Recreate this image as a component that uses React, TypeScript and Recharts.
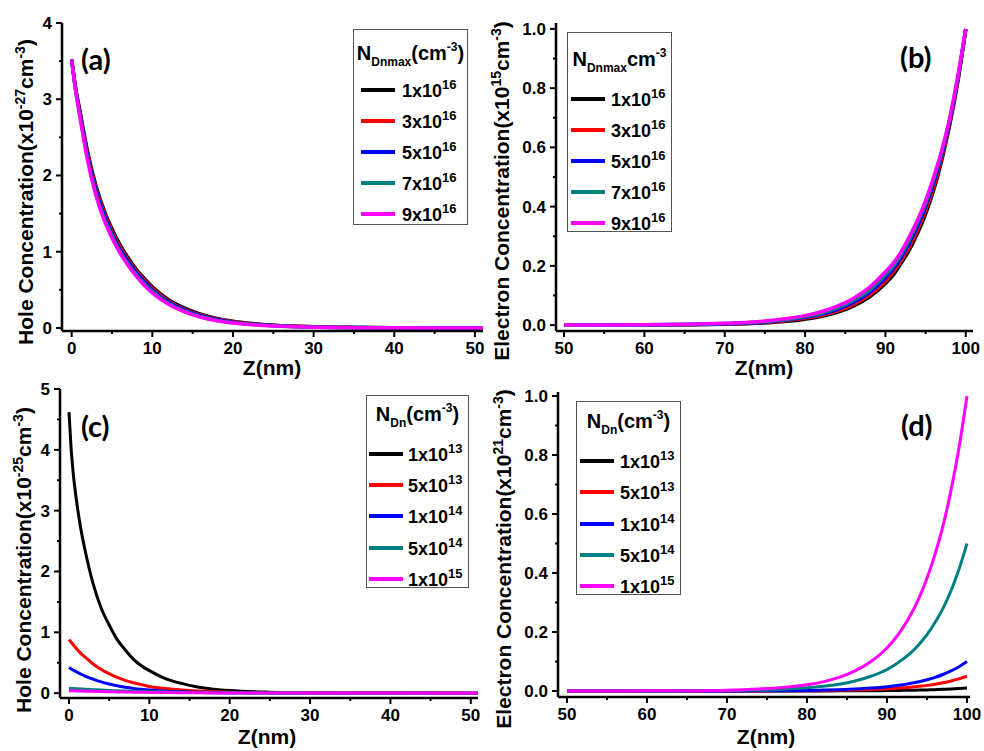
import React from 'react';
import { LineChart, Line, XAxis, YAxis, Legend } from 'recharts';

const FONT = "'Liberation Sans', Arial, sans-serif";
const COLORS = ['#000000', '#ff0000', '#0000ff', '#008080', '#ff00ff'];

// (a) hole concentration, N_Dnmax sweep
const zA = [0, 0.5, 1, 2, 3, 4, 5, 6, 7, 8, 9, 10, 12, 14, 16, 18, 20, 25, 30, 35, 40, 45, 51];
const holeA1 = [3.52, 3.14, 2.86, 2.3, 1.87, 1.55, 1.3, 1.09, 0.92, 0.77, 0.65, 0.54, 0.37, 0.26, 0.18, 0.125, 0.087, 0.037, 0.016, 0.007, 0.003, 0.0012, 0.0005];
const holeA3 = [3.52, 3.13, 2.84, 2.27, 1.84, 1.52, 1.27, 1.06, 0.89, 0.75, 0.63, 0.52, 0.355, 0.245, 0.17, 0.117, 0.081, 0.034, 0.014, 0.006, 0.0025, 0.001, 0.0004];
const holeA5 = [3.52, 3.12, 2.82, 2.24, 1.81, 1.49, 1.24, 1.03, 0.87, 0.73, 0.61, 0.5, 0.34, 0.235, 0.16, 0.11, 0.076, 0.031, 0.013, 0.005, 0.002, 0.0009, 0.0003];
const holeA7 = [3.52, 3.11, 2.8, 2.21, 1.77, 1.45, 1.21, 1.0, 0.84, 0.7, 0.58, 0.48, 0.325, 0.22, 0.15, 0.102, 0.07, 0.028, 0.011, 0.0045, 0.0017, 0.0007, 0.0002];
const holeA9 = [3.52, 3.1, 2.78, 2.18, 1.74, 1.42, 1.18, 0.98, 0.82, 0.68, 0.56, 0.46, 0.31, 0.21, 0.14, 0.095, 0.065, 0.025, 0.01, 0.004, 0.0015, 0.0006, 0];
const legendA = [['1', '16'], ['3', '16'], ['5', '16'], ['7', '16'], ['9', '16']];

// (b) electron concentration, N_Dnmax sweep
const zB = [50, 55, 60, 65, 70, 74, 77, 80, 82, 84, 86, 88, 90, 91, 92, 93, 94, 95, 96, 97, 98, 99, 100];
const elecB1 = [0.0001, 0.0002, 0.0005, 0.001, 0.003, 0.006, 0.011, 0.02, 0.029, 0.043, 0.064, 0.095, 0.14, 0.17, 0.21, 0.255, 0.31, 0.375, 0.455, 0.555, 0.675, 0.82, 1.0];
const elecB3 = [0.0001, 0.0003, 0.0006, 0.0013, 0.0035, 0.007, 0.013, 0.023, 0.032, 0.047, 0.069, 0.101, 0.148, 0.18, 0.219, 0.266, 0.322, 0.387, 0.466, 0.564, 0.682, 0.825, 1.0];
const elecB5 = [0.0001, 0.0003, 0.0007, 0.0016, 0.004, 0.008, 0.015, 0.026, 0.036, 0.052, 0.076, 0.11, 0.159, 0.19, 0.23, 0.278, 0.334, 0.4, 0.479, 0.574, 0.689, 0.83, 1.0];
const elecB7 = [0.0002, 0.0004, 0.0008, 0.002, 0.005, 0.0095, 0.017, 0.029, 0.04, 0.058, 0.083, 0.118, 0.17, 0.2, 0.24, 0.289, 0.345, 0.41, 0.49, 0.582, 0.695, 0.835, 1.0];
const elecB9 = [0.0002, 0.0005, 0.001, 0.0025, 0.006, 0.011, 0.02, 0.032, 0.045, 0.064, 0.09, 0.127, 0.18, 0.21, 0.25, 0.3, 0.355, 0.42, 0.5, 0.59, 0.7, 0.84, 1.0];
const legendB = [['1', '16'], ['3', '16'], ['5', '16'], ['7', '16'], ['9', '16']];

// (c) hole concentration, N_Dn sweep
const zC = [0, 0.25, 0.5, 1, 1.5, 2, 3, 4, 5, 6, 7, 8, 9, 10, 12, 14, 16, 18, 20, 25, 30, 40, 51];
const holeC1 = [4.62, 4.05, 3.65, 3.1, 2.68, 2.35, 1.8, 1.4, 1.12, 0.88, 0.71, 0.56, 0.45, 0.37, 0.24, 0.16, 0.1, 0.065, 0.042, 0.015, 0.006, 0.001, 0];
const holeC2 = [0.88, 0.84, 0.8, 0.72, 0.65, 0.59, 0.48, 0.39, 0.32, 0.26, 0.21, 0.17, 0.14, 0.11, 0.075, 0.05, 0.034, 0.023, 0.015, 0.006, 0.0025, 0.0005, 0];
const holeC3 = [0.42, 0.4, 0.38, 0.345, 0.31, 0.28, 0.23, 0.185, 0.15, 0.12, 0.097, 0.078, 0.063, 0.05, 0.033, 0.022, 0.015, 0.01, 0.007, 0.003, 0.001, 0.0003, 0];
const holeC4 = [0.08, 0.078, 0.076, 0.072, 0.068, 0.064, 0.057, 0.05, 0.044, 0.039, 0.034, 0.03, 0.026, 0.023, 0.017, 0.013, 0.01, 0.007, 0.005, 0.002, 0.001, 0.0002, 0];
const holeC5 = [0.04, 0.039, 0.038, 0.036, 0.034, 0.032, 0.029, 0.026, 0.023, 0.02, 0.018, 0.016, 0.014, 0.012, 0.009, 0.007, 0.005, 0.004, 0.003, 0.0015, 0.0007, 0.0002, 0];
const legendC = [['1', '13'], ['5', '13'], ['1', '14'], ['5', '14'], ['1', '15']];

// (d) electron concentration, N_Dn sweep
const zD = [50, 55, 60, 65, 70, 74, 77, 80, 82, 84, 86, 88, 90, 91, 92, 93, 94, 95, 96, 97, 98, 99, 100];
const elecD1 = [0, 0, 0, 0, 0, 0.0001, 0.0001, 0.0002, 0.0003, 0.0005, 0.0007, 0.001, 0.0015, 0.0018, 0.0022, 0.0026, 0.0032, 0.0038, 0.0046, 0.0056, 0.0068, 0.0083, 0.01];
const elecD2 = [0, 0, 0, 0.0001, 0.0002, 0.0004, 0.0006, 0.001, 0.0016, 0.0023, 0.0034, 0.005, 0.0073, 0.0089, 0.0108, 0.013, 0.0158, 0.0191, 0.0232, 0.028, 0.034, 0.0413, 0.05];
const elecD3 = [0, 0, 0.0001, 0.0001, 0.0003, 0.0007, 0.0012, 0.0021, 0.0031, 0.0046, 0.0068, 0.01, 0.0146, 0.0177, 0.0215, 0.026, 0.0315, 0.0382, 0.0463, 0.056, 0.068, 0.0825, 0.1];
const elecD4 = [0.0001, 0.0001, 0.0003, 0.0005, 0.0015, 0.0035, 0.006, 0.011, 0.016, 0.023, 0.034, 0.05, 0.073, 0.089, 0.108, 0.13, 0.158, 0.191, 0.232, 0.28, 0.34, 0.413, 0.5];
const elecD5 = [0.0001, 0.0003, 0.0005, 0.001, 0.003, 0.007, 0.012, 0.021, 0.031, 0.046, 0.068, 0.1, 0.146, 0.177, 0.215, 0.26, 0.315, 0.382, 0.463, 0.56, 0.68, 0.825, 1.0];
const legendD = [['1', '13'], ['5', '13'], ['1', '14'], ['5', '14'], ['1', '15']];

// tick values
const holeXMajor = [0, 10, 20, 30, 40, 50];
const holeXMinor = [5, 15, 25, 35, 45];
const elecXMajor = [50, 60, 70, 80, 90, 100];
const elecXMinor = [55, 65, 75, 85, 95];
const yMajorA = [0, 1, 2, 3, 4];
const yMinorA = [0.5, 1.5, 2.5, 3.5];
const yMajorC = [0, 1, 2, 3, 4, 5];
const yMinorC = [0.5, 1.5, 2.5, 3.5, 4.5];
const yMajorElec = [0, 0.2, 0.4, 0.6, 0.8, 1.0];
const yMinorElec = [0.1, 0.3, 0.5, 0.7, 0.9];

const KEYS = ['s1', 's2', 's3', 's4', 's5'];

function buildRows(z: number[], series: number[][]) {
  return z.map((zv, i) => {
    const row: any = { z: zv };
    series.forEach((s, k) => { row[KEYS[k]] = s[i]; });
    return row;
  });
}

const tickFont = { fontFamily: FONT, fontWeight: 'bold' as const, fontSize: 17, fill: '#000' };

function renderTick(p: any, dir: 'h' | 'v', majors: number[], fmt: ((v: number) => string) | null) {
  const v = p.payload.value;
  const major = majors.some((m) => Math.abs(m - v) < 1e-9);
  const len = major ? 6 : 3;
  if (dir === 'h') {
    return (
      <g>
        <line x1={p.x} x2={p.x} y1={p.y} y2={p.y + len} stroke="#000" strokeWidth={2} />
        {major && fmt && (
          <text x={p.x} y={p.y + 23} textAnchor="middle" style={tickFont}>{fmt(v)}</text>
        )}
      </g>
    );
  }
  return (
    <g>
      <line x1={p.x - len} x2={p.x} y1={p.y} y2={p.y} stroke="#000" strokeWidth={2} />
      {major && fmt && (
        <text x={p.x - 10} y={p.y + 6} textAnchor="end" style={tickFont}>{fmt(v)}</text>
      )}
    </g>
  );
}

const Sup = ({ children, size = 13, top = -8 }: any) => (
  <span style={{ fontSize: size, position: 'relative', top }}>{children}</span>
);
const Sub = ({ children }: any) => (
  <span style={{ fontSize: 12, position: 'relative', top: 6 }}>{children}</span>
);

function LegendBox({ payload, spec, title, labels }: any) {
  return (
    <div style={{
      position: 'relative', width: spec.width, height: spec.height, boxSizing: 'border-box',
      border: '1.5px solid #555', background: '#fff', fontFamily: FONT, fontWeight: 'bold', color: '#000',
    }}>
      <div style={{ position: 'absolute', left: 0, right: 0, top: spec.titleY - 12, textAlign: 'center', fontSize: 20, lineHeight: '24px', whiteSpace: 'nowrap' }}>
        {title}
      </div>
      {(payload || []).map((item: any, i: number) => (
        <div key={i} style={{ position: 'absolute', left: 0, width: '100%', top: spec.rowY + i * spec.rowGap - 12, height: 24 }}>
          <div style={{ position: 'absolute', left: spec.lineX, top: 10, width: 34, height: 4, background: item.color }} />
          <div style={{ position: 'absolute', left: spec.textX, top: 1, fontSize: 18, lineHeight: '24px', whiteSpace: 'nowrap' }}>
            {labels[i][0]}x10<Sup>{labels[i][1]}</Sup>
          </div>
        </div>
      ))}
    </div>
  );
}

function Panel(cfg: any) {
  const rows = buildRows(cfg.z, cfg.series);
  const xTicks = [...cfg.xMajor, ...cfg.xMinor].sort((a, b) => a - b);
  const yTicks = [...cfg.yMajor, ...cfg.yMinor].sort((a, b) => a - b);
  const axisLine = { stroke: '#000', strokeWidth: 2.5 };
  return (
    <div style={{ position: 'absolute', left: cfg.left, top: cfg.top }}>
      <LineChart width={cfg.width} height={cfg.height} data={rows} margin={{ top: cfg.mTop, right: cfg.mRight, bottom: 0, left: 0 }}>
        <XAxis xAxisId="b" type="number" dataKey="z" domain={cfg.xDomain} ticks={xTicks} interval={0} allowDataOverflow
          height={cfg.xHeight} tickSize={0} tickMargin={0} tickLine={false} axisLine={axisLine}
          tick={(p: any) => renderTick(p, 'h', cfg.xMajor, (v) => String(v))} />
        <XAxis xAxisId="t" orientation="top" type="number" dataKey="z" domain={cfg.xDomain} ticks={xTicks} interval={0} allowDataOverflow
          height={0} tickSize={0} tickMargin={0} tickLine={false} axisLine={axisLine}
          tick={(p: any) => renderTick(p, 'h', cfg.xMajor, null)} />
        <YAxis yAxisId="l" type="number" domain={cfg.yDomain} ticks={yTicks} interval={0} allowDataOverflow
          width={cfg.yWidth} tickSize={0} tickMargin={0} tickLine={false} axisLine={axisLine}
          tick={(p: any) => renderTick(p, 'v', cfg.yMajor, cfg.yFmt)} />
        <YAxis yAxisId="r" orientation="right" type="number" domain={cfg.yDomain} ticks={yTicks} interval={0} allowDataOverflow
          width={0} tickSize={0} tickMargin={0} tickLine={false} axisLine={axisLine}
          tick={(p: any) => renderTick(p, 'v', cfg.yMajor, null)} />
        {KEYS.map((k, i) => (
          <Line key={k} xAxisId="b" yAxisId="l" dataKey={k} name={k} type="monotone" stroke={COLORS[i]}
            strokeWidth={cfg.lineWidth} dot={false} activeDot={false} isAnimationActive={false} />
        ))}
        <Legend layout="vertical" align="center" verticalAlign="middle"
          wrapperStyle={{ left: cfg.legend.left, top: cfg.legend.top, width: cfg.legend.width, height: cfg.legend.height }}
          content={(props: any) => <LegendBox payload={props.payload} spec={cfg.legend} title={cfg.legendTitle} labels={cfg.labels} />} />
      </LineChart>
    </div>
  );
}

const titleStyle: React.CSSProperties = {
  position: 'absolute', whiteSpace: 'nowrap', fontFamily: FONT, fontWeight: 'bold', fontSize: 21, lineHeight: '24px', color: '#000',
};

function YTitle({ cx, cy, children }: any) {
  return <div style={{ ...titleStyle, left: cx, top: cy, transform: 'translate(-50%, -50%) rotate(-90deg)' }}>{children}</div>;
}
function XTitle({ cx, cy }: any) {
  return <div style={{ ...titleStyle, left: cx, top: cy, transform: 'translate(-50%, -50%)' }}>Z(nm)</div>;
}
function PanelTag({ x, y, text }: any) {
  return (
    <div style={{ position: 'absolute', left: x, top: y, fontFamily: "Lato, 'Liberation Sans', sans-serif", fontWeight: 'bold', fontSize: 29, lineHeight: '30px', color: '#000' }}>
      {text}
    </div>
  );
}

const fmtInt = (v: number) => String(v);
const fmt1 = (v: number) => v.toFixed(1);

export default function App() {
  return (
    <div style={{ position: 'absolute', left: 0, top: 0, width: 984, height: 751, background: '#fff', overflow: 'hidden' }}>
      <Panel left={0} top={0} width={490} height={370} mTop={23} mRight={7} yWidth={62} xHeight={39}
        xDomain={[-1.2, 51]} yDomain={[-0.04, 4]} xMajor={holeXMajor} xMinor={holeXMinor}
        yMajor={yMajorA} yMinor={yMinorA} yFmt={fmtInt} lineWidth={3.5}
        z={zA} series={[holeA1, holeA3, holeA5, holeA7, holeA9]} labels={legendA}
        legend={{ left: 353, top: 29, width: 115, height: 196, titleY: 23, rowY: 60, rowGap: 31, lineX: 7, textX: 48 }}
        legendTitle={<span>N<Sub>Dnmax</Sub>(cm<Sup size={12} top={-9}>-3</Sup>)</span>} />
      <Panel left={490} top={0} width={494} height={370} mTop={23} mRight={11} yWidth={66} xHeight={39}
        xDomain={[49, 100.9]} yDomain={[-0.02, 1.02]} xMajor={elecXMajor} xMinor={elecXMinor}
        yMajor={yMajorElec} yMinor={yMinorElec} yFmt={fmt1} lineWidth={3.5}
        z={zB} series={[elecB1, elecB3, elecB5, elecB7, elecB9]} labels={legendB}
        legend={{ left: 77, top: 32, width: 105, height: 200, titleY: 26, rowY: 66, rowGap: 31, lineX: 3, textX: 43 }}
        legendTitle={<span>N<Sub>Dnmax</Sub>cm<Sup size={12} top={-9}>-3</Sup></span>} />
      <Panel left={0} top={370} width={490} height={381} mTop={19} mRight={12} yWidth={60} xHeight={53}
        xDomain={[-1.12, 50.9]} yDomain={[-0.08, 5]} xMajor={holeXMajor} xMinor={holeXMinor}
        yMajor={yMajorC} yMinor={yMinorC} yFmt={fmtInt} lineWidth={3}
        z={zC} series={[holeC1, holeC2, holeC3, holeC4, holeC5]} labels={legendC}
        legend={{ left: 366, top: 25, width: 103, height: 193, titleY: 18, rowY: 58, rowGap: 31.2, lineX: 2, textX: 41 }}
        legendTitle={<span>N<Sub>Dn</Sub>(cm<Sup size={12} top={-9}>-3</Sup>)</span>} />
      <Panel left={490} top={370} width={494} height={381} mTop={22} mRight={14} yWidth={68} xHeight={54}
        xDomain={[48.875, 100.375]} yDomain={[-0.0203, 1.0136]} xMajor={elecXMajor} xMinor={elecXMinor}
        yMajor={yMajorElec} yMinor={yMinorElec} yFmt={fmt1} lineWidth={3}
        z={zD} series={[elecD1, elecD2, elecD3, elecD4, elecD5]} labels={legendD}
        legend={{ left: 86, top: 31, width: 105, height: 194, titleY: 19, rowY: 59, rowGap: 31.3, lineX: 3, textX: 43 }}
        legendTitle={<span>N<Sub>Dn</Sub>(cm<Sup size={12} top={-9}>-3</Sup>)</span>} />

      <YTitle cx={27} cy={192}>Hole Concentration(x10<Sup size={14}>-27</Sup>cm<Sup size={14}>-3</Sup>)</YTitle>
      <YTitle cx={503} cy={191}>Electron Concentration(x10<Sup size={14}>15</Sup>cm<Sup size={14}>-3</Sup>)</YTitle>
      <YTitle cx={25} cy={560}>Hole Concentration(x10<Sup size={14}>-25</Sup>cm<Sup size={14}>-3</Sup>)</YTitle>
      <YTitle cx={505} cy={559}>Electron Concentration(x10<Sup size={14}>21</Sup>cm<Sup size={14}>-3</Sup>)</YTitle>
      <XTitle cx={272} cy={368} />
      <XTitle cx={764} cy={368} />
      <XTitle cx={267} cy={737} />
      <XTitle cx={766} cy={737} />

      <PanelTag x={81} y={44} text="(a)" />
      <PanelTag x={900} y={42} text="(b)" />
      <PanelTag x={81} y={411} text="(c)" />
      <PanelTag x={901} y={410} text="(d)" />
    </div>
  );
}
